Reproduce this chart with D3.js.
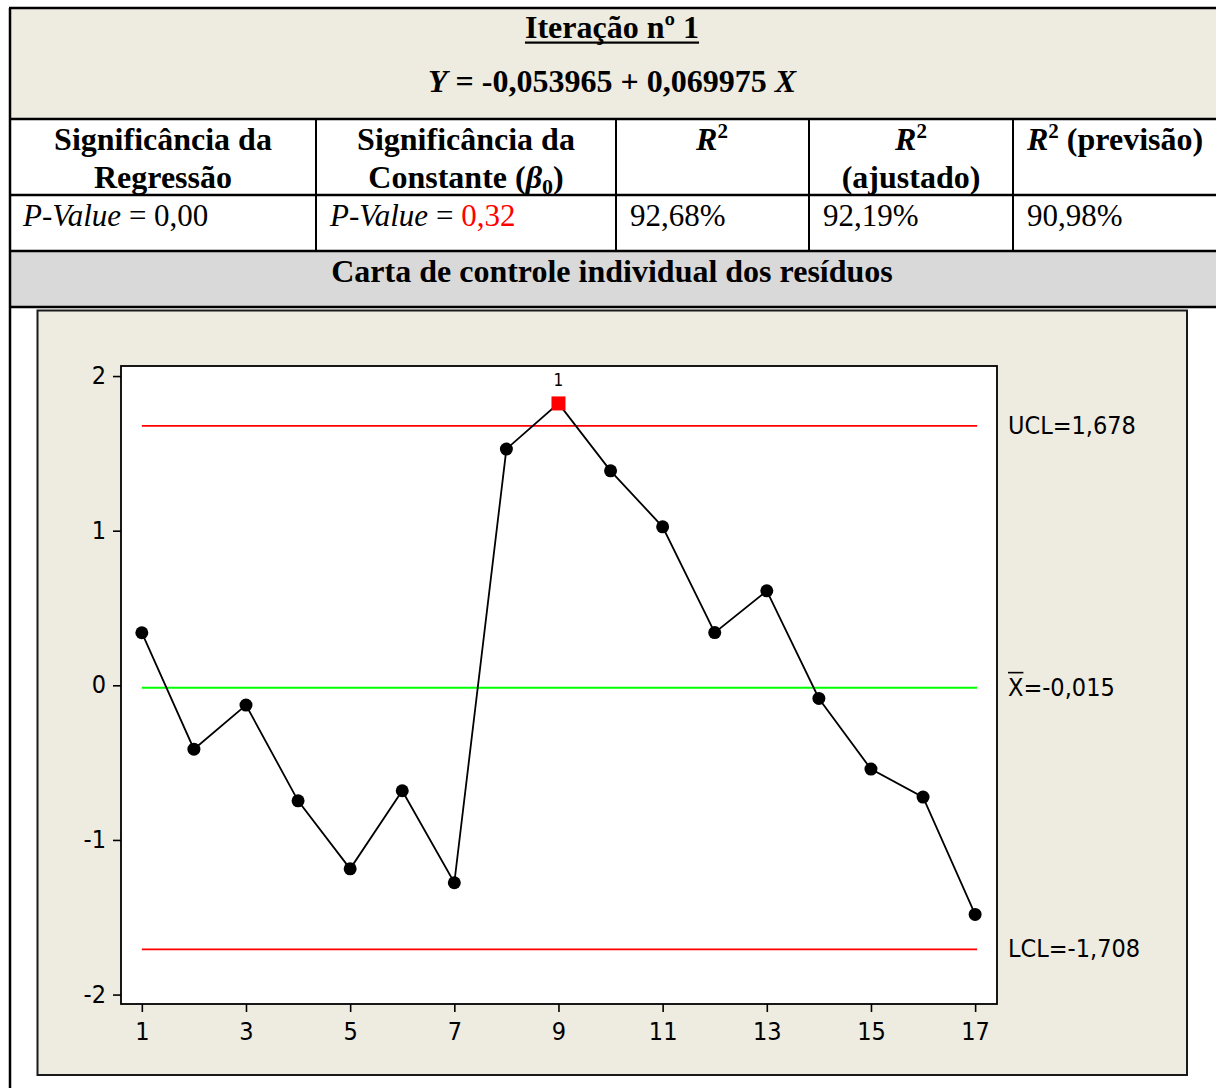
<!DOCTYPE html>
<html>
<head>
<meta charset="utf-8">
<script src="https://cdn.jsdelivr.net/npm/d3@7"></script>
<style>
  html, body { margin: 0; padding: 0; background: #fff; }
  svg { display: block; }
</style>
</head>
<body>
<script>
// Residuals of the regression, observation by observation
const observations = [1, 2, 3, 4, 5, 6, 7, 8, 9, 10, 11, 12, 13, 14, 15, 16, 17];
const residuals = [0.340, -0.413, -0.128, -0.747, -1.187, -0.682, -1.277, 1.528, 1.823,
                   1.387, 1.025, 0.341, 0.611, -0.085, -0.542, -0.723, -1.482];
// Observations failing test 1 (beyond the control limits)
const flagged = [9];
const flagLabel = "1";

// Control limits
const ucl = 1.678;
const centerLine = -0.015;
const lcl = -1.708;
const limitLabels = ["UCL=1,678", "=-0,015", "LCL=-1,708"];

const xTicks = [1, 3, 5, 7, 9, 11, 13, 15, 17];
const yTicks = [-2, -1, 0, 1, 2];

// Summary table
const title = "Iteração nº 1";
const colHeaders = [
  ["Significância da", "Regressão"],
  ["Significância da", "Constante (β0)"],
  ["R2"],
  ["R2", "(ajustado)"],
  ["R2 (previsão)"]
];
const pValueRegression = "0,00";
const pValueConstant = "0,32";
const rSquared = ["92,68%", "92,19%", "90,98%"];
const chartTitle = "Carta de controle individual dos resíduos";

const W = 1216, H = 1088;
const serif = "'Liberation Serif', 'Times New Roman', serif";
const sans = "'DejaVu Sans Condensed', 'DejaVu Sans', Tahoma, sans-serif";
const beige = "#EEEBE1";

const svg = d3.select("body").append("svg")
  .attr("width", W).attr("height", H)
  .attr("viewBox", `0 0 ${W} ${H}`);

// ---------- table ----------
const tableLeft = 10;
const rowY = [8, 119, 195, 251, 307];
const colX = [tableLeft, 316, 616, 809, 1013, W + 5];

svg.append("rect").attr("x", tableLeft).attr("y", rowY[0]).attr("width", W).attr("height", rowY[1] - rowY[0]).attr("fill", beige);
svg.append("rect").attr("x", tableLeft).attr("y", rowY[3]).attr("width", W).attr("height", rowY[4] - rowY[3]).attr("fill", "#D9D9D9");

const lines = svg.append("g").attr("stroke", "#000").attr("stroke-width", 2.5);
rowY.forEach(y => lines.append("line").attr("x1", tableLeft - 1).attr("x2", W).attr("y1", y).attr("y2", y));
lines.append("line").attr("x1", tableLeft).attr("x2", tableLeft).attr("y1", rowY[0]).attr("y2", H);
colX.slice(1, 5).forEach(x => lines.append("line").attr("x1", x).attr("x2", x).attr("y1", rowY[1]).attr("y2", rowY[3]).attr("stroke-width", 2));

// title with underline
const titleText = svg.append("text")
  .attr("x", 612).attr("y", 38).attr("text-anchor", "middle")
  .attr("font-family", serif).attr("font-size", 32).attr("font-weight", "bold")
  .text(title);
const tb = titleText.node().getBBox();
svg.append("rect").attr("x", tb.x).attr("y", 41.5).attr("width", tb.width).attr("height", 2.2).attr("fill", "#000");

// regression equation
const eq = svg.append("text")
  .attr("x", 612).attr("y", 92).attr("text-anchor", "middle")
  .attr("font-family", serif).attr("font-size", 32).attr("font-weight", "bold");
eq.append("tspan").attr("font-style", "italic").text("Y");
eq.append("tspan").text(" = -0,053965 + 0,069975 ");
eq.append("tspan").attr("font-style", "italic").text("X");

// column headers
function headerText(x, y, anchor) {
  return svg.append("text").attr("x", x).attr("y", y).attr("text-anchor", anchor)
    .attr("font-family", serif).attr("font-size", 32).attr("font-weight", "bold");
}
function addR2(t) {
  t.append("tspan").attr("font-style", "italic").text("R");
  t.append("tspan").attr("font-size", 21).attr("dy", -12).text("2");
}
// col 1
headerText(163, 150, "middle").text(colHeaders[0][0]);
headerText(163, 188, "middle").text(colHeaders[0][1]);
// col 2
headerText(466, 150, "middle").text(colHeaders[1][0]);
{
  const t = headerText(466, 188, "middle");
  t.append("tspan").text("Constante (");
  t.append("tspan").attr("font-style", "italic").text("β");
  t.append("tspan").attr("font-size", 22).attr("dy", 6).text("0");
  t.append("tspan").attr("dy", -6).text(")");
}
// col 3
addR2(headerText(712, 150, "middle"));
// col 4
addR2(headerText(911, 150, "middle"));
headerText(911, 188, "middle").text(colHeaders[3][1]);
// col 5
{
  const t = headerText(1027, 150, "start");
  addR2(t);
  t.append("tspan").attr("dy", 12).text(" (previsão)");
}

// values row
function valueText(x) {
  return svg.append("text").attr("x", x).attr("y", 226)
    .attr("font-family", serif).attr("font-size", 31);
}
{
  const t = valueText(23);
  t.append("tspan").attr("font-style", "italic").text("P-Value");
  t.append("tspan").text(" = " + pValueRegression);
}
{
  const t = valueText(330);
  t.append("tspan").attr("font-style", "italic").text("P-Value");
  t.append("tspan").text(" = ");
  t.append("tspan").attr("fill", "#FF0000").text(pValueConstant);
}
[630, 823, 1027].forEach((x, i) => valueText(x).text(rSquared[i]));

// chart section title
svg.append("text").attr("x", 612).attr("y", 282).attr("text-anchor", "middle")
  .attr("font-family", serif).attr("font-size", 32).attr("font-weight", "bold")
  .text(chartTitle);

// ---------- control chart ----------
svg.append("rect").attr("x", 37.5).attr("y", 310.5).attr("width", 1149.5).attr("height", 764.5)
  .attr("fill", beige).attr("stroke", "#1a1a1a").attr("stroke-width", 2);

const plot = { left: 121, top: 366, right: 997, bottom: 1004 };
const x = d3.scaleLinear().domain([0.6, 17.42]).range([plot.left, plot.right]);
const y = d3.scaleLinear().domain([-2.061, 2.065]).range([plot.bottom, plot.top]);

svg.append("rect").attr("x", plot.left).attr("y", plot.top)
  .attr("width", plot.right - plot.left).attr("height", plot.bottom - plot.top)
  .attr("fill", "#fff").attr("stroke", "#000").attr("stroke-width", 1.8);

// axes
const yAxis = svg.append("g").attr("transform", `translate(${plot.left},0)`)
  .call(d3.axisLeft(y).tickValues(yTicks).tickSize(8).tickPadding(7).tickFormat(d3.format("d")));
const xAxis = svg.append("g").attr("transform", `translate(0,${plot.bottom})`)
  .call(d3.axisBottom(x).tickValues(xTicks).tickSize(8).tickPadding(10).tickFormat(d3.format("d")));
[yAxis, xAxis].forEach(g => {
  g.select(".domain").remove();
  g.selectAll(".tick line").attr("stroke", "#000").attr("stroke-width", 1.6);
  g.selectAll(".tick text").attr("font-family", sans).attr("font-size", 25).attr("fill", "#000");
});
yAxis.selectAll(".tick text").attr("dy", "0.3em").text(d => d < 0 ? "-" + Math.abs(d) : d);

// control limits and center line
const xStart = x(observations[0]);
const xEnd = x(observations[observations.length - 1]) + 2;
svg.append("line").attr("x1", xStart).attr("x2", xEnd).attr("y1", y(ucl)).attr("y2", y(ucl))
  .attr("stroke", "#FF0000").attr("stroke-width", 1.8);
svg.append("line").attr("x1", xStart).attr("x2", xEnd).attr("y1", y(lcl)).attr("y2", y(lcl))
  .attr("stroke", "#FF0000").attr("stroke-width", 1.8);
svg.append("line").attr("x1", xStart).attr("x2", xEnd).attr("y1", y(centerLine)).attr("y2", y(centerLine))
  .attr("stroke", "#00FF00").attr("stroke-width", 2);

// limit labels
const labelX = 1008;
function limitText(v) {
  return svg.append("text").attr("x", labelX).attr("y", y(v) + 8)
    .attr("font-family", sans).attr("font-size", 25).attr("fill", "#000");
}
limitText(ucl).text(limitLabels[0]);
limitText(lcl).text(limitLabels[2]);
{
  const xBar = limitText(centerLine).text("X");
  const bw = xBar.node().getComputedTextLength();
  svg.append("line").attr("x1", labelX).attr("x2", labelX + bw)
    .attr("y1", y(centerLine) - 15).attr("y2", y(centerLine) - 15)
    .attr("stroke", "#000").attr("stroke-width", 1.6);
  svg.append("text").attr("x", labelX + bw).attr("y", y(centerLine) + 8)
    .attr("font-family", sans).attr("font-size", 25).attr("fill", "#000")
    .text(limitLabels[1]);
}

// residual series
const pts = observations.map((o, i) => ({ o, v: residuals[i], bad: flagged.includes(o) }));
svg.append("path").datum(pts)
  .attr("fill", "none").attr("stroke", "#000").attr("stroke-width", 1.8)
  .attr("d", d3.line().x(d => x(d.o)).y(d => y(d.v)));

svg.selectAll("circle.pt").data(pts.filter(d => !d.bad)).enter().append("circle")
  .attr("class", "pt").attr("cx", d => x(d.o)).attr("cy", d => y(d.v)).attr("r", 6.5).attr("fill", "#000");

const sq = 14;
const bad = pts.filter(d => d.bad);
svg.selectAll("rect.bad").data(bad).enter().append("rect")
  .attr("class", "bad").attr("x", d => x(d.o) - sq / 2).attr("y", d => y(d.v) - sq / 2)
  .attr("width", sq).attr("height", sq).attr("fill", "#FF0000");
svg.selectAll("text.flag").data(bad).enter().append("text")
  .attr("class", "flag").attr("x", d => x(d.o)).attr("y", d => y(d.v) - sq / 2 - 10)
  .attr("text-anchor", "middle").attr("font-family", sans).attr("font-size", 17).attr("fill", "#000")
  .text(flagLabel);
</script>
</body>
</html>
